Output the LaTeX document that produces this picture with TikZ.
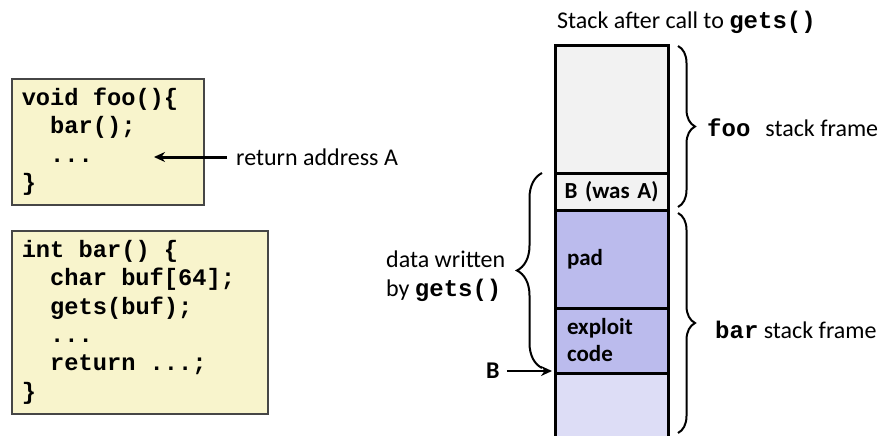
\documentclass[tikz,border=0pt]{standalone}
\usepackage{fontspec}
\setmainfont{Carlito}
\setmonofont{Liberation Mono}
\usetikzlibrary{positioning,arrows.meta,decorations.pathreplacing}

\definecolor{codebg}{RGB}{248,244,204}
\definecolor{codeline}{RGB}{70,70,70}
\definecolor{oldframe}{RGB}{242,242,242}
\definecolor{attack}{RGB}{187,187,237}
\definecolor{newframe}{RGB}{221,221,246}
\newcommand{\codeindent}{\hspace*{1.2em}}
\newcommand{\cspace}{\hspace*{0.6em}}

\begin{document}
\begin{tikzpicture}[x=1pt, y=-1pt,
    font=\fontsize{24}{28.5}\selectfont,
    lbl/.style={inner sep=0pt, anchor=west},
    code/.style={draw=codeline, line width=1.5pt, fill=codebg, anchor=north west, align=left,
        inner xsep=10pt, font=\fontsize{23.7}{28.4}\selectfont\ttfamily\bfseries},
    cell/.style={draw, line width=3pt, text width=89pt, inner xsep=12pt, inner ysep=0pt,
        outer sep=0pt, align=left, font=\fontsize{23}{27}\selectfont\bfseries},
    brace/.style={decorate, decoration={brace, amplitude=#1}, line width=2pt},
    arrow/.style={-{Stealth[length=11pt, width=10pt]}, line width=3pt}
]
    \useasboundingbox (0,0) rectangle (891,436);

    % source code
    \node[code, minimum width=192pt, minimum height=126pt, text width=172pt] (foo) at (11,78)
        {void\cspace foo()\{\\ \codeindent bar();\\ \codeindent ...\\ \}};
    \node[code, minimum width=256pt, minimum height=183pt, text width=236pt] (bar) at (11,230)
        {int\cspace bar()\cspace\{\\ \codeindent char\cspace buf[64];\\ \codeindent gets(buf);\\
         \codeindent ...\\ \codeindent return\cspace ...;\\ \}};
    \coordinate (dots) at (154,157);
    \node[lbl] (retA) at (236,157) {return address A};
    \draw[arrow] (retA.west) ++(-9,0) -- (dots);

    % stack
    \node[lbl] (title) at (557,22) {Stack after call to \texttt{\bfseries gets()}};
    \node[cell, fill=oldframe, minimum height=127pt, anchor=north west] (fooframe) at (555,46) {};
    \node[cell, fill=oldframe, minimum height=37pt, text width=109pt, inner xsep=2pt, align=center,
        below=0pt of fooframe] (retaddr) {B (was A)};
    \node[cell, fill=attack, minimum height=98pt, below=0pt of retaddr] (pad) {pad};
    \node[cell, fill=attack, minimum height=65pt, below=0pt of pad] (exploit) {exploit\\code};
    \node[cell, fill=newframe, minimum height=75pt, below=0pt of exploit] (barframe) {};

    % braces
    \draw[brace=17pt] (678,46) -- (678,207);
    \node[lbl] (foolabel) at (707,128) {\texttt{\bfseries foo}\hspace{0.4em} stack frame};
    \draw[brace=17pt] (678,213) -- (678,433);
    \node[lbl] (barlabel) at (715,330) {\texttt{\bfseries bar} stack frame};
    \draw[brace=25pt] (542,368) -- (542,173);
    \node[lbl, align=left] (written) at (386,276) {data written\\by \texttt{\bfseries gets()}};

    \node[lbl] (B) at (486,371) {\bfseries B};
    \draw[arrow, line width=2.5pt, shorten >=3pt] (B.east) ++(7,0) -- (B.east -| exploit.west);
\end{tikzpicture}
\end{document}
